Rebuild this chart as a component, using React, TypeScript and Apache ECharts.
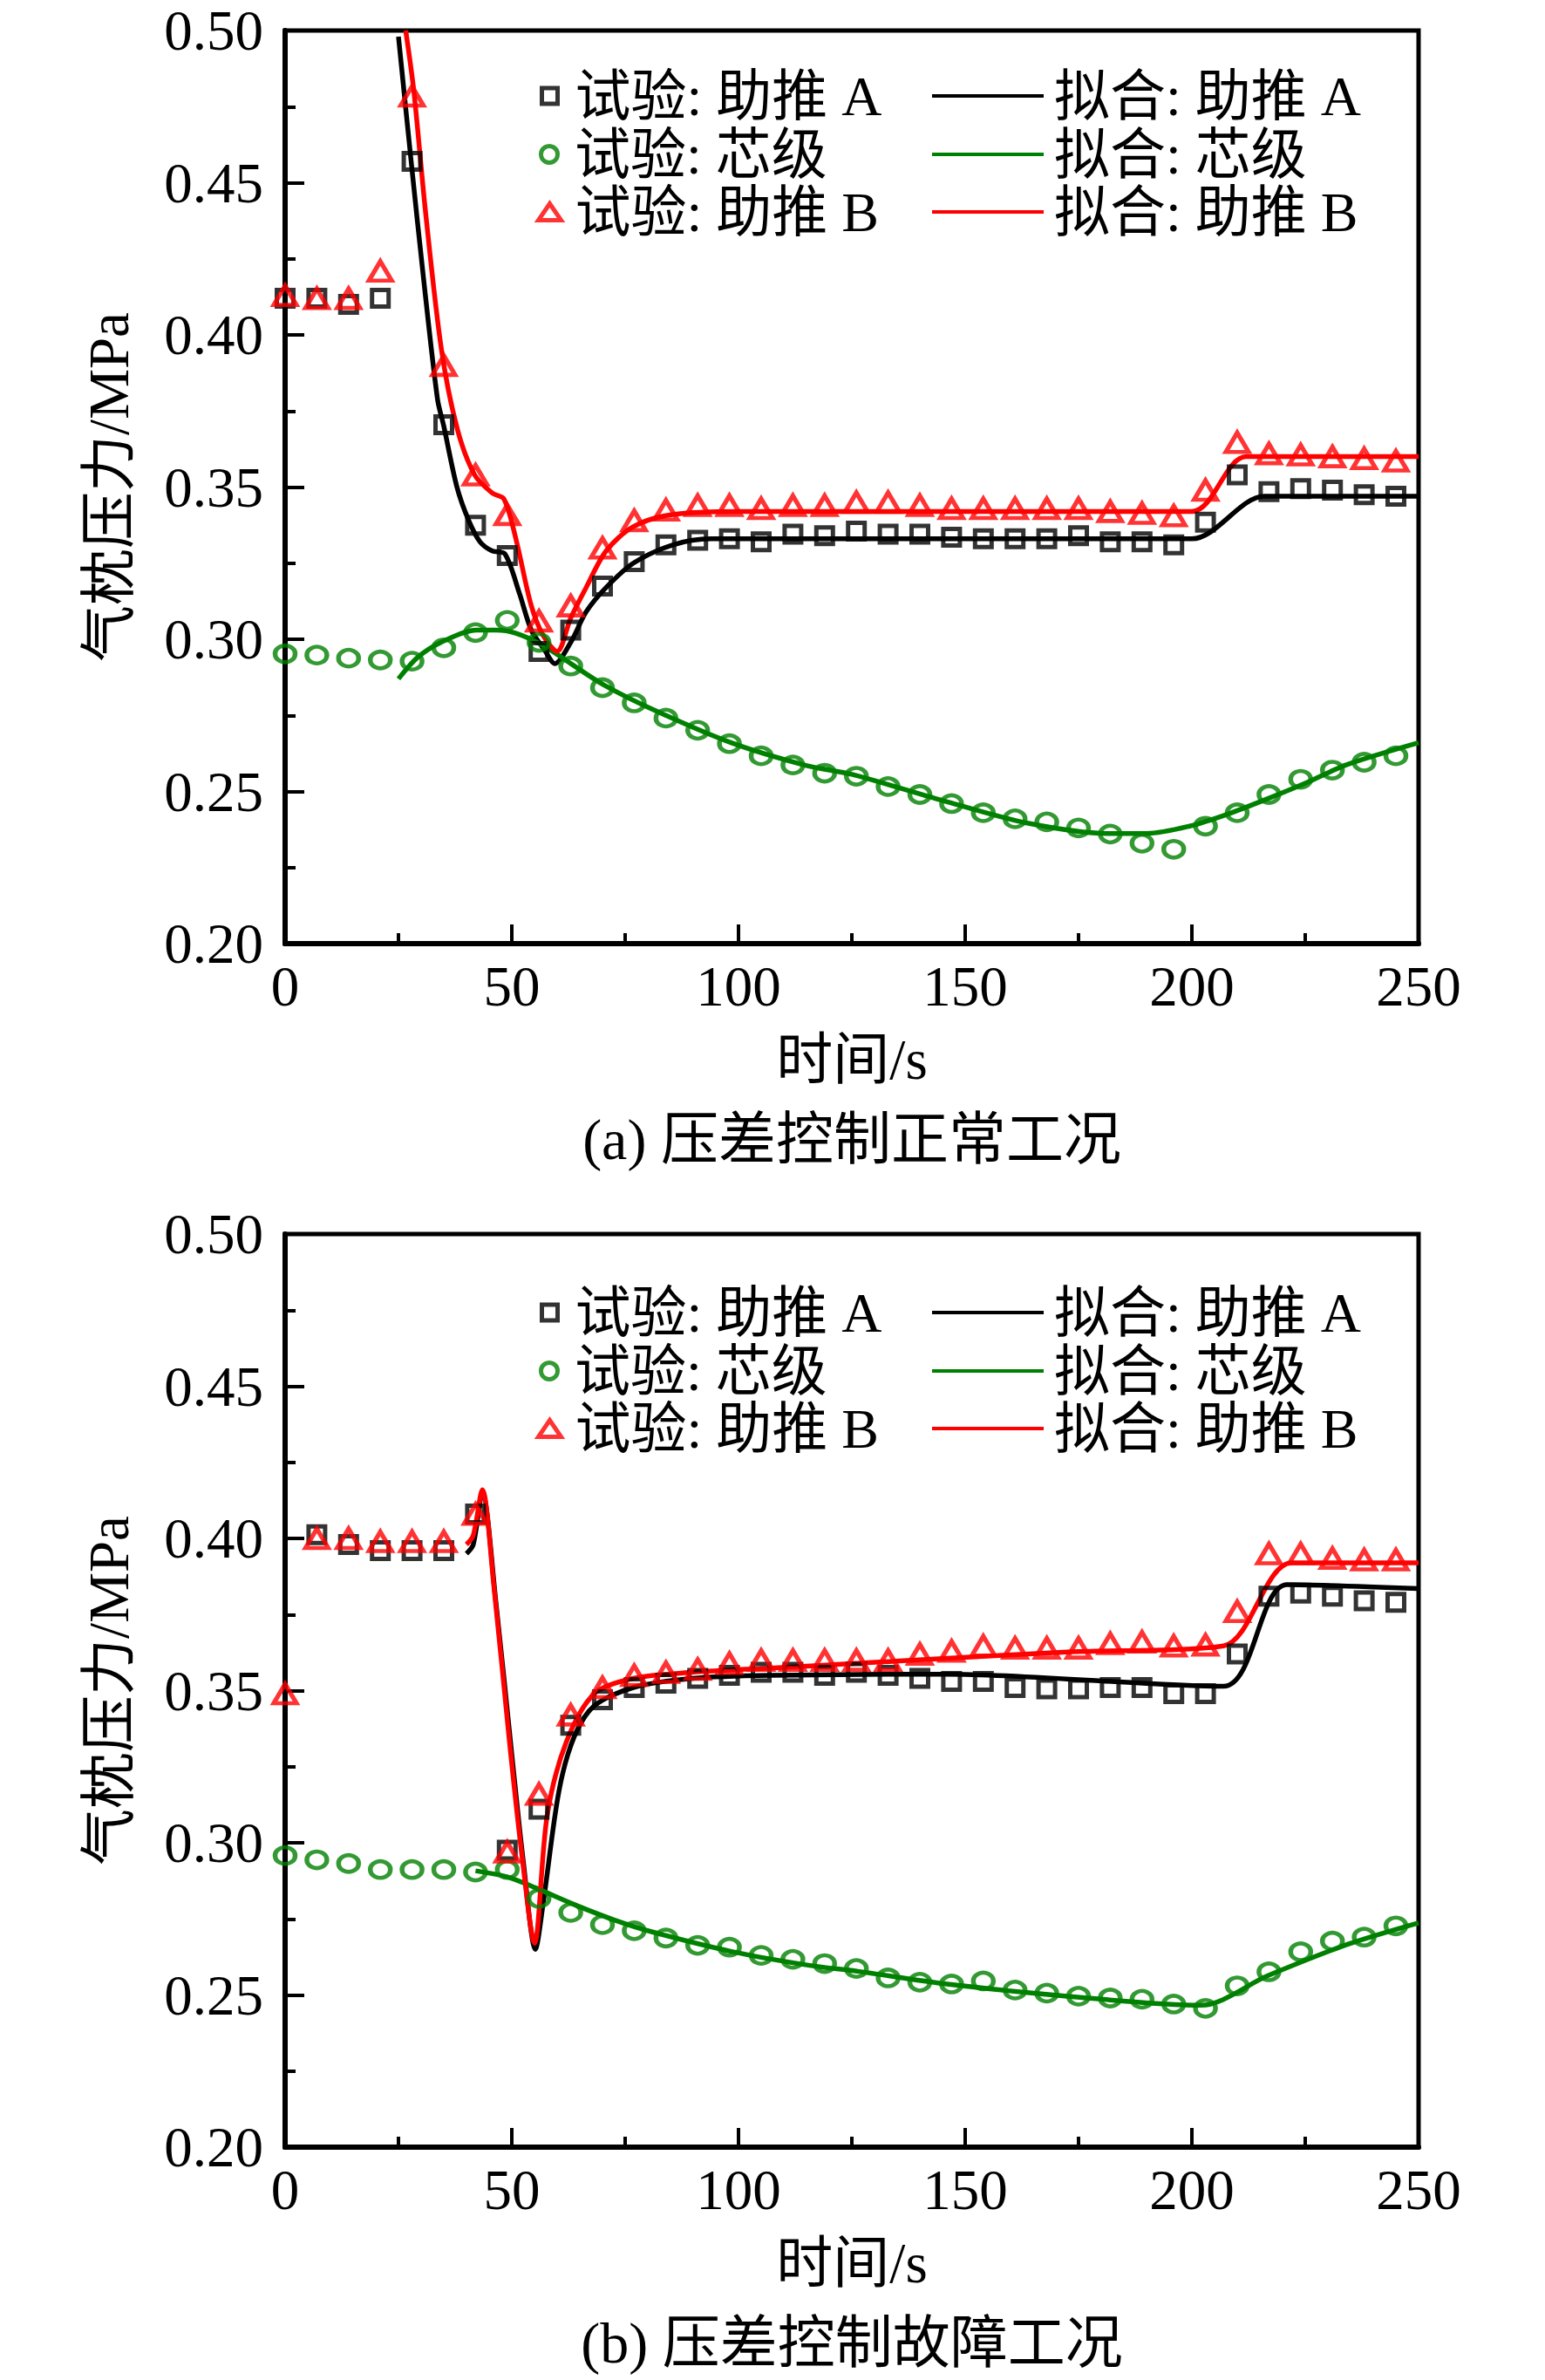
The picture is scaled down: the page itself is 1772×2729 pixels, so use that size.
import React, { useEffect, useRef } from 'react';
import * as echarts from 'echarts';

// 试验测点时刻 (s)
const expTime = [
  0, 7, 14, 21, 28, 35, 42, 49, 56, 63, 70, 77, 84, 91, 98, 105, 112, 119,
  126, 133, 140, 147, 154, 161, 168, 175, 182, 189, 196, 203, 210, 217, 224, 231, 238, 245,
];

// (a) 压差控制正常工况 — 试验
const normalExpA = [
  0.412, 0.412, 0.41, 0.412, 0.457, 0.3705, 0.3375, 0.3275, 0.296, 0.303, 0.3175, 0.3255,
  0.331, 0.3325, 0.333, 0.332, 0.3345, 0.334, 0.3355, 0.3345, 0.3345, 0.3335, 0.333, 0.333,
  0.333, 0.334, 0.332, 0.332, 0.331, 0.3385, 0.354, 0.3485, 0.3495, 0.349, 0.3475, 0.347,
];
const normalExpCore = [
  0.2952, 0.2948, 0.2938, 0.2932, 0.2928, 0.2972, 0.3022, 0.3062, 0.299, 0.2912, 0.2841, 0.2791,
  0.2741, 0.2701, 0.2657, 0.2617, 0.2587, 0.256, 0.255, 0.2516, 0.249, 0.246, 0.243, 0.241,
  0.24, 0.238, 0.236, 0.233, 0.231, 0.2386, 0.243, 0.249, 0.254, 0.257, 0.2596, 0.2617,
];
const normalExpB = [
  0.413, 0.412, 0.412, 0.421, 0.4785, 0.39, 0.354, 0.341, 0.306, 0.311, 0.33, 0.339,
  0.3425, 0.344, 0.344, 0.343, 0.344, 0.344, 0.345, 0.345, 0.344, 0.343, 0.343, 0.343,
  0.343, 0.343, 0.342, 0.3414, 0.3406, 0.349, 0.3647, 0.361, 0.3606, 0.36, 0.3594, 0.3586,
];

// (a) 拟合曲线
const normalFitATime = [25, 27.8, 30.5, 33.6, 35, 37.9, 40.5, 43, 45.7, 48.5, 51.7, 54.3, 57, 59.5, 63, 66.4, 70.8, 76.8, 85.5, 94, 200, 216, 250];
const normalFitA = [0.498, 0.457, 0.419, 0.379, 0.37, 0.35, 0.339, 0.332, 0.329, 0.328, 0.315, 0.303, 0.297, 0.292, 0.299, 0.309, 0.317, 0.325, 0.331, 0.333, 0.333, 0.347, 0.347];
const normalFitCoreTime = [25, 29.2, 34.4, 42.2, 46.5, 50.9, 56.9, 63, 70.3, 81, 98.4, 115, 125, 146, 163.7, 181.4, 190, 199.5, 208, 216.7, 225.5, 234, 250];
const normalFitCore = [0.287, 0.294, 0.299, 0.303, 0.303, 0.302, 0.298, 0.292, 0.285, 0.277, 0.266, 0.2585, 0.2556, 0.2466, 0.2396, 0.2362, 0.2362, 0.2386, 0.2426, 0.2476, 0.253, 0.2587, 0.266];
const normalFitBTime = [26.6, 28.4, 31, 34.5, 38, 41.8, 45.7, 48.3, 50.9, 54.3, 57, 60, 63, 66.4, 70.8, 76.8, 85.5, 100, 200, 212, 250];
const normalFitB = [0.5, 0.48, 0.44, 0.395, 0.369, 0.354, 0.348, 0.346, 0.333, 0.311, 0.301, 0.296, 0.307, 0.317, 0.329, 0.337, 0.341, 0.342, 0.342, 0.36, 0.36];

// (b) 压差控制故障工况 — 试验
const faultExpA = [
  null, 0.4012, 0.398, 0.396, 0.396, 0.396, 0.408, 0.2976, 0.311, 0.3386, 0.347, 0.351,
  0.3524, 0.354, 0.355, 0.356, 0.356, 0.355, 0.356, 0.355, 0.354, 0.353, 0.353, 0.351,
  0.3506, 0.3506, 0.351, 0.351, 0.349, 0.349, 0.362, 0.381, 0.382, 0.381, 0.3795, 0.379,
];
const faultExpCore = [
  0.2958, 0.2944, 0.2932, 0.2912, 0.2912, 0.2912, 0.2904, 0.2912, 0.2817, 0.2771, 0.2731, 0.2711,
  0.2687, 0.2663, 0.2657, 0.263, 0.2617, 0.2603, 0.2587, 0.2556, 0.2542, 0.2536, 0.2546, 0.2516,
  0.2506, 0.2496, 0.249, 0.2486, 0.247, 0.2456, 0.253, 0.2576, 0.2642, 0.2677, 0.269, 0.2727,
];
const faultExpB = [
  0.349, 0.4, 0.4, 0.399, 0.399, 0.399, 0.408, 0.297, 0.316, 0.342, 0.351, 0.355,
  0.356, 0.357, 0.359, 0.36, 0.36, 0.36, 0.36, 0.36, 0.362, 0.363, 0.3647, 0.364,
  0.364, 0.364, 0.3655, 0.366, 0.3647, 0.365, 0.376, 0.395, 0.395, 0.3935, 0.393, 0.393,
];

// (b) 拟合曲线
const faultFitATime = [40, 41.5, 43.5, 46.5, 50, 52.6, 55.2, 57, 60.4, 63.8, 68.2, 76.8, 89.8, 107, 146, 207, 221, 250];
const faultFitA = [0.395, 0.398, 0.415, 0.379, 0.329, 0.293, 0.265, 0.281, 0.317, 0.335, 0.345, 0.351, 0.354, 0.355, 0.3554, 0.3514, 0.3848, 0.3835];
const faultFitCoreTime = [42, 49, 55.2, 63.8, 72.5, 81, 98.4, 115.7, 126.6, 146, 172.5, 202, 216.7, 234.5, 250];
const faultFitCore = [0.2908, 0.2888, 0.2852, 0.2797, 0.2747, 0.2707, 0.2643, 0.2597, 0.2577, 0.2536, 0.2496, 0.2466, 0.2563, 0.2667, 0.2737];
const faultFitBTime = [40, 41.5, 43.5, 46, 49.5, 52.3, 55, 57.8, 62, 68.2, 76.8, 89.8, 107, 126.6, 146, 172.5, 207, 222, 250];
const faultFitB = [0.398, 0.401, 0.416, 0.385, 0.333, 0.295, 0.267, 0.309, 0.333, 0.349, 0.354, 0.356, 0.3574, 0.359, 0.3606, 0.3627, 0.3647, 0.392, 0.392];

const yTicks = [0.2, 0.25, 0.3, 0.35, 0.4, 0.45, 0.5];
const captions = ['(a) 压差控制正常工况', '(b) 压差控制故障工况'];

const FONT = '"Liberation Serif", "Noto Sans CJK SC", serif';
const BLACK = '#000000';
const GREEN = '#008000';
const RED = '#ff0000';

const EXP_A = '试验: 助推 A';
const EXP_CORE = '试验: 芯级';
const EXP_B = '试验: 助推 B';
const FIT_A = '拟合: 助推 A';
const FIT_CORE = '拟合: 芯级';
const FIT_B = '拟合: 助推 B';

const GRID_LEFT = 327;
const GRID_W = 1300;
const GRID_H = 1047;
const GRID_TOPS = [35, 1415];
const LEGEND_ROWS = [
  [110, 177, 243],
  [1505, 1572, 1638],
];
const CAPTION_Y = [1307, 2687];
const MARK_BORDER = 5;

function pairs(xs: number[], ys: (number | null)[]) {
  const out: number[][] = [];
  xs.forEach((x, i) => {
    const y = ys[i];
    if (y != null) out.push([x, y]);
  });
  return out;
}

function lineSeries(name: string, g: number, data: number[][], color: string) {
  return {
    type: 'line',
    name,
    xAxisIndex: g,
    yAxisIndex: g,
    data,
    symbol: 'none',
    showSymbol: false,
    smooth: 0.3,
    lineStyle: { color, width: 5.5 },
    itemStyle: { color },
    z: 2,
  };
}

function scatterSeries(name: string, g: number, data: number[][], color: string, symbol: string, size: number[]) {
  return {
    type: 'scatter',
    name,
    xAxisIndex: g,
    yAxisIndex: g,
    data,
    symbol,
    symbolSize: size,
    itemStyle: { color: 'transparent', borderColor: color, borderWidth: MARK_BORDER },
    z: 3,
  };
}

function legendItem(name: string, left: number, rowCenter: number, w: number, h: number, pad: number) {
  return {
    orient: 'vertical',
    left,
    top: rowCenter - 33,
    padding: 0,
    itemWidth: w,
    itemHeight: h,
    itemGap: 0,
    selectedMode: false,
    data: [name],
    itemStyle: { borderWidth: MARK_BORDER },
    lineStyle: { width: 4 },
    textStyle: { fontFamily: FONT, fontSize: 64, lineHeight: 66, color: BLACK, padding: [0, 0, 0, pad] },
  };
}

export default function App() {
  const chartRef = useRef<HTMLDivElement>(null);

  useEffect(() => {
    if (!chartRef.current) return;
    const chart = echarts.init(chartRef.current, undefined, { renderer: 'svg' });

    const axisText = { fontFamily: FONT, fontSize: 65, color: BLACK };
    const tick = { inside: true, length: 22, lineStyle: { color: BLACK, width: 4 } };
    const minor = { show: true, splitNumber: 2, length: 12, lineStyle: { color: BLACK, width: 4 } };

    const grids = GRID_TOPS.map((top) => ({
      left: GRID_LEFT,
      top,
      width: GRID_W,
      height: GRID_H,
      show: true,
      borderColor: BLACK,
      borderWidth: 5,
      containLabel: false,
    }));

    const xAxes = GRID_TOPS.map((_, g) => ({
      gridIndex: g,
      type: 'value',
      min: 0,
      max: 250,
      interval: 50,
      name: '时间/s',
      nameLocation: 'middle',
      nameGap: 100,
      nameTextStyle: axisText,
      axisLine: { onZero: false, lineStyle: { color: BLACK, width: 6 } },
      axisTick: tick,
      minorTick: minor,
      axisLabel: { ...axisText, margin: 16 },
      splitLine: { show: false },
    }));

    const yAxes = GRID_TOPS.map((_, g) => ({
      gridIndex: g,
      type: 'value',
      min: yTicks[0],
      max: yTicks[yTicks.length - 1],
      interval: 0.05,
      name: '气枕压力/MPa',
      nameLocation: 'middle',
      nameGap: 170,
      nameTextStyle: axisText,
      axisLine: { onZero: false, lineStyle: { color: BLACK, width: 6 } },
      axisTick: tick,
      minorTick: minor,
      axisLabel: { ...axisText, margin: 25, formatter: (v: number) => v.toFixed(2) },
      splitLine: { show: false },
    }));

    const panels = [
      {
        expA: normalExpA, expCore: normalExpCore, expB: normalExpB,
        fitA: pairs(normalFitATime, normalFitA),
        fitCore: pairs(normalFitCoreTime, normalFitCore),
        fitB: pairs(normalFitBTime, normalFitB),
      },
      {
        expA: faultExpA, expCore: faultExpCore, expB: faultExpB,
        fitA: pairs(faultFitATime, faultFitA),
        fitCore: pairs(faultFitCoreTime, faultFitCore),
        fitB: pairs(faultFitBTime, faultFitB),
      },
    ];

    const series: any[] = [];
    panels.forEach((p, g) => {
      series.push(lineSeries(FIT_A, g, p.fitA, BLACK));
      series.push(lineSeries(FIT_CORE, g, p.fitCore, GREEN));
      series.push(lineSeries(FIT_B, g, p.fitB, RED));
      series.push(scatterSeries(EXP_A, g, pairs(expTime, p.expA), BLACK, 'rect', [19, 19]));
      series.push(scatterSeries(EXP_CORE, g, pairs(expTime, p.expCore), GREEN, 'circle', [23, 19]));
      series.push(scatterSeries(EXP_B, g, pairs(expTime, p.expB), RED, 'triangle', [26, 22]));
    });

    const legends: any[] = [];
    LEGEND_ROWS.forEach((rows) => {
      legends.push(legendItem(EXP_A, 628 - 9, rows[0], 18, 18, 15));
      legends.push(legendItem(EXP_CORE, 628 - 10, rows[1], 20, 19, 14));
      legends.push(legendItem(EXP_B, 628 - 13, rows[2], 26, 19, 11));
      legends.push(legendItem(FIT_A, 1067, rows[0], 128, 4, 7));
      legends.push(legendItem(FIT_CORE, 1067, rows[1], 128, 4, 7));
      legends.push(legendItem(FIT_B, 1067, rows[2], 128, 4, 7));
    });

    const titles = captions.map((text, g) => ({
      text,
      left: GRID_LEFT + GRID_W / 2,
      top: CAPTION_Y[g] - 34,
      textAlign: 'center',
      padding: 0,
      textStyle: { fontFamily: FONT, fontSize: 66, fontWeight: 'normal', color: BLACK },
    }));

    chart.setOption({
      animation: false,
      backgroundColor: '#ffffff',
      title: titles,
      grid: grids,
      xAxis: xAxes,
      yAxis: yAxes,
      legend: legends,
      series,
    });

    return () => {
      chart.dispose();
    };
  }, []);

  return (
    <div
      ref={chartRef}
      style={{ position: 'absolute', left: 0, top: 0, width: '1772px', height: '2729px', background: '#fff' }}
    />
  );
}
